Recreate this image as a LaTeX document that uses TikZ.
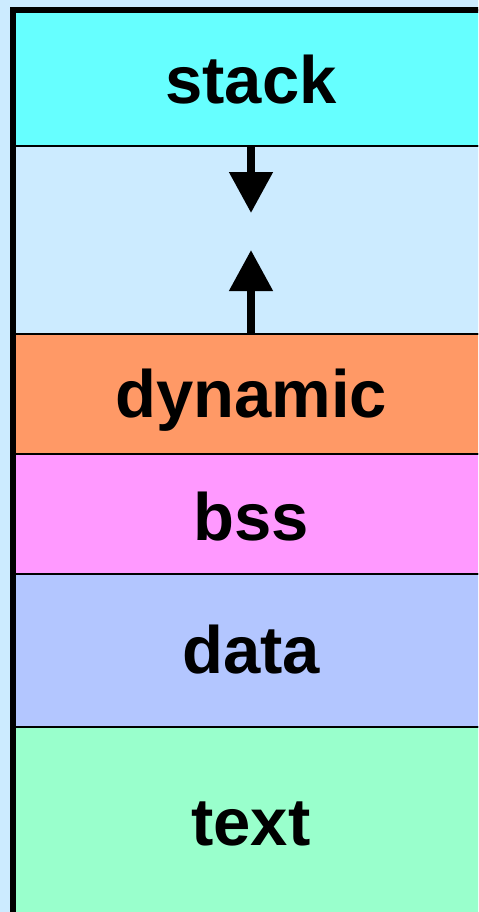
\documentclass[tikz,border=0pt]{standalone}
\usepackage{fontspec}
\setmainfont{Liberation Sans}
\usepackage{tikz}
\usetikzlibrary{positioning,arrows.meta}
\definecolor{bgblue}{HTML}{CCEBFF}
\definecolor{stackcol}{HTML}{66FFFF}
\definecolor{dyncol}{HTML}{FF9966}
\definecolor{bsscol}{HTML}{FF99FF}
\definecolor{datacol}{HTML}{B3C6FF}
\definecolor{textcol}{HTML}{99FFCC}
\tikzset{
  band/.style={draw=black,line width=1pt,inner sep=0pt,outer sep=0pt,minimum width=238pt,anchor=north},
  seglabel/.style={anchor=base,font=\bfseries\fontsize{33.5}{40}\selectfont},
  growarrow/.style={-{Triangle[length=20.5pt,width=21pt]},line width=4pt},
}

\begin{document}
\begin{tikzpicture}[x=0.5pt,y=-0.5pt]
        \useasboundingbox (0,0) rectangle (478,912);
        \clip (0,0) rectangle (478,912);
        \fill [bgblue] (0,0) rectangle (478,912);
        % memory segments, top to bottom
        \node [band,fill=stackcol,minimum height=68pt] (stack) at (251,10) {};
        \node [band,fill=bgblue,minimum height=94pt,below=0pt of stack] (gap) {};
        \node [band,fill=dyncol,minimum height=59.75pt,below=0pt of gap] (dyn) {};
        \node [band,fill=bsscol,minimum height=60pt,below=0pt of dyn] (bss) {};
        \node [band,fill=datacol,minimum height=76.5pt,below=0pt of bss] (data) {};
        \node [band,fill=textcol,minimum height=101.75pt,below=0pt of data] (text) {};
        \draw [line width=3pt] (text.south west) |- (stack.north east);
        % labels
        \node [seglabel] (lstack) at (251,103) {stack};
        \node [seglabel] (ldyn) at (251,417) {dynamic};
        \node [seglabel] (lbss) at (251,540) {bss};
        \node [seglabel] (ldata) at (251,673) {data};
        \node [seglabel] (ltext) at (251,845) {text};
        % growth directions
        \coordinate (downtip) at (251,213);
        \coordinate (uptip) at (251,250);
        \draw [growarrow] (stack.south) -- (downtip);
        \draw [growarrow] (dyn.north) -- (uptip);
\end{tikzpicture}
\end{document}
